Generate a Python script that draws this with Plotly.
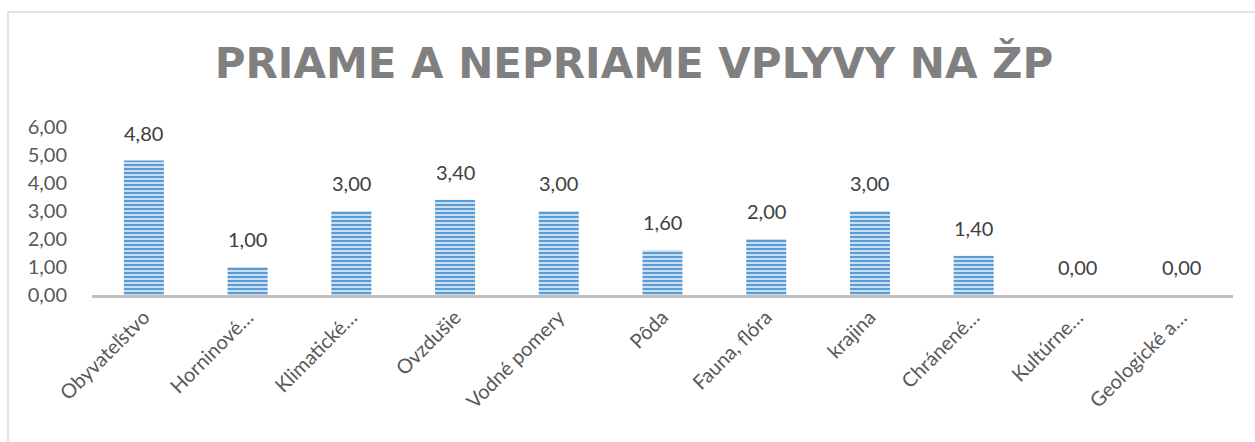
import plotly.graph_objects as go

categories = ["Obyvateľstvo", "Horninové…", "Klimatické…", "Ovzdušie", "Vodné pomery",
              "Pôda", "Fauna, flóra", "krajina", "Chránené…", "Kultúrne…", "Geologické a…"]
values = [4.80, 1.00, 3.00, 3.40, 3.00, 1.60, 2.00, 3.00, 1.40, 0.00, 0.00]
y_ticks = [0, 1, 2, 3, 4, 5, 6]
title_text = "PRIAME A NEPRIAME VPLYVY NA ŽP"

W, H = 1255, 442
L, R, T, B = 92, 22, 127, 147
pw, ph = W - L - R, H - T - B

fig = go.Figure()
fig.add_trace(go.Bar(
    x=categories, y=values,
    marker=dict(
        color="#5b9bd5",
        line=dict(width=0),
        pattern=dict(shape="-", fillmode="replace", bgcolor="#d6e6f5",
                     fgcolor="#5b9bd5", size=4, solidity=0.55),
    ),
    hoverinfo="skip",
))

for c, v in zip(categories, values):
    fig.add_annotation(x=c, y=v, text=f"{v:.2f}".replace(".", ","), showarrow=False,
                       yshift=28, font=dict(family="Lato", size=20, color="#404040"))

fig.add_shape(type="rect", xref="paper", yref="paper",
              x0=(8 - L) / pw, x1=(W + 10 - L) / pw,
              y0=(T + ph - (H + 10)) / ph, y1=(T + ph - 12) / ph,
              line=dict(color="#d9d9d9", width=1.5), fillcolor="rgba(0,0,0,0)", layer="below")

fig.update_layout(
    width=W, height=H,
    margin=dict(l=L, r=R, t=T, b=B),
    paper_bgcolor="white", plot_bgcolor="white",
    separators=", ",
    bargap=0.614,
    showlegend=False,
    title=dict(text=title_text, xref="container", x=634 / W, xanchor="center",
               yref="container", y=1 - 63 / H, yanchor="middle",
               font=dict(family="DejaVu Sans", size=42, color="#808080", weight="bold")),
    xaxis=dict(showline=True, linecolor="#bfbfbf", linewidth=2.5, ticks="",
               tickangle=-45, tickfont=dict(family="Lato", size=20, color="#595959"),
               showgrid=False, zeroline=False),
    yaxis=dict(range=[0, 6], tickvals=y_ticks, tickformat=".2f", showgrid=False,
               zeroline=False, showline=False, ticks="", ticklabelstandoff=24,
               tickfont=dict(family="Lato", size=20, color="#595959")),
)

fig.write_html("out.html", config={"displayModeBar": False},
               post_script="document.body.style.margin='0';")
